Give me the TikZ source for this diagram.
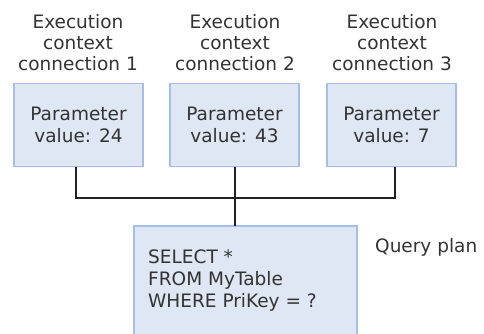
\documentclass[tikz,border=0pt]{standalone}
\usepackage{fontspec}
\setmainfont{DejaVu Sans}
\definecolor{boxfill}{HTML}{DFE7F4}
\definecolor{boxline}{HTML}{A6BEE6}
\definecolor{inkgray}{HTML}{333333}
\definecolor{wire}{HTML}{222222}
\tikzset{
  parambox/.style={draw=boxline, fill=boxfill, line width=1.2pt, minimum width=129pt, minimum height=83pt, inner sep=0pt, align=center, font=\fontsize{18.5}{21.5}\selectfont, text=inkgray},
  caption/.style={align=center, font=\fontsize{18.5}{21}\selectfont, text=inkgray, inner sep=0pt},
  joinline/.style={draw=wire, line width=2.2pt}
}
\begin{document}
\begin{tikzpicture}[x=1pt,y=-1pt]
  \useasboundingbox (0,0) rectangle (484,334);
  % execution contexts
  \node[caption] (c1) at (78,43) {Execution\\context\\connection 1};
  \node[caption] (c2) at (235,43) {Execution\\context\\connection 2};
  \node[caption] (c3) at (392,43) {Execution\\context\\connection 3};
  \node[parambox] (p1) at (78.5,125) {Parameter\\value: 24};
  \node[parambox] (p2) at (234.5,125) {Parameter\\value: 43};
  \node[parambox] (p3) at (391.5,125) {Parameter\\value: 7};
  % shared query plan
  \path[draw=boxline, fill=boxfill, line width=1.2pt] (134,226) rectangle (357,336);
  \node[draw=none, minimum width=223pt, minimum height=108pt, inner sep=0pt] (q) at (245.5,280) {};
  \node[anchor=north west, inner sep=0pt, align=left, text=inkgray, font=\fontsize{18.5}{22}\selectfont] (qt) at (148,249.5) {SELECT *\\FROM MyTable\\WHERE PriKey = ?};
  \node[anchor=base west, inner sep=0pt, text=inkgray, font=\fontsize{18.5}{21}\selectfont] (ql) at (375,252) {Query plan};
  % connectors
  \coordinate (j) at (235,198);
  \draw[joinline] (p1.south -| 76,0) -- (76,198) -- (395,198) -- (p3.south -| 395,0);
  \draw[joinline] (p2.south -| j) -- (j) -- (q.north -| j);
\end{tikzpicture}
\end{document}
